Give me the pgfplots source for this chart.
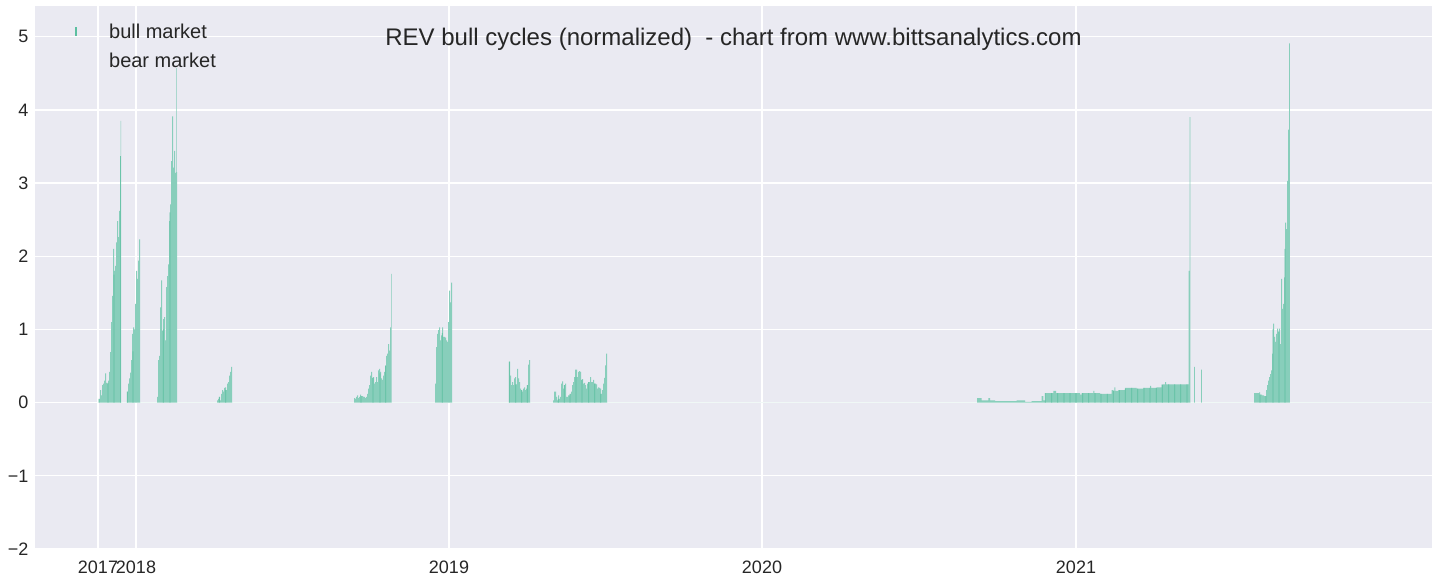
\documentclass[border=0pt]{standalone}
\usepackage{fontspec}
\setmainfont{Liberation Sans}
\usepackage{pgfplots}
\usepackage{pgfplotstable}
\pgfplotsset{compat=1.18}
\definecolor{bg}{HTML}{EAEAF2}
\definecolor{barc}{HTML}{88CEBB}
\definecolor{barline}{HTML}{5CBFA0}
\definecolor{txt}{HTML}{262626}

% x: position along the time axis (2018 = 136, one year = 313 units)
\pgfplotstableread{
x y
99 0.05
100 0.17
101 0.10
102 0.24
103 0.26
104 0.30
105 0.40
106 0.27
107 0.26
108 0.30
109 0.42
110 0.69
111 1.10
112 1.46
113 2.10
114 1.80
115 1.87
116 2.19
117 2.48
118 2.26
119 2.62
120 3.37
120.5 3.85
121.2 0
127 0.15
128 0.26
129 0.33
130 0.41
131 0.58
132 0.94
133 1.03
134 1.00
135 1.35
136 1.80
137 1.69
138 1.94
139 2.23
140 0
157 0.08
158 0.58
159 0.64
160 1.30
161 1.67
162 0.98
163 1.14
164 1.17
165 0.85
166 1.58
167 1.73
168 1.89
169 2.48
170 2.71
171 3.30
172 3.91
173 3.21
174 3.44
175 3.14
176 4.57
176.6 3.15
177.2 0
217 0.03
218 0.05
219 0.08
220 0.03
221 0.12
222 0.17
223 0.15
224 0.20
225 0.21
226 0.17
227 0.26
228 0.28
229 0.37
230 0.42
231 0.49
232 0
354 0.06
355 0.05
356 0.08
357 0.10
358 0.06
359 0.08
360 0.11
361 0.09
362 0.09
363 0.08
364 0.08
365 0.06
366 0.08
367 0.12
368 0.19
369 0.24
370 0.37
371 0.42
372 0.34
373 0.35
374 0.26
375 0.28
376 0.35
377 0.28
378 0.44
379 0.46
380 0.42
381 0.33
382 0.31
383 0.37
384 0.42
385 0.51
386 0.64
387 0.67
388 0.80
389 0.71
390 1.03
391 1.76
391.7 0
435 0.26
436 0.76
437 0.94
438 0.99
439 1.03
440 0.85
441 0.92
442 1.03
443 0.90
444 0.90
445 0.89
446 0.85
447 0.83
448 1.10
449 1.53
450 1.37
451 1.64
452 0
509 0.56
510 0.37
511 0.24
512 0.28
513 0.24
514 0.33
515 0.35
516 0.25
517 0.46
518 0.33
519 0.28
520 0.19
521 0.17
522 0.15
523 0.19
524 0.21
525 0.17
526 0.19
527 0.24
528 0.52
529 0.58
530 0
553 0.03
554 0.15
555 0.15
556 0.08
557 0.03
558 0.10
559 0.05
560 0.08
561 0.26
562 0.29
563 0.19
564 0.24
565 0.26
566 0.08
567 0.08
568 0.10
569 0.10
570 0.12
571 0.15
572 0.24
573 0.28
574 0.35
575 0.45
576 0.45
577 0.35
578 0.42
579 0.43
580 0.42
581 0.31
582 0.32
583 0.26
584 0.27
585 0.24
586 0.19
587 0.26
588 0.28
589 0.28
590 0.35
591 0.28
592 0.28
593 0.31
594 0.26
595 0.26
596 0.25
597 0.19
598 0.21
599 0.20
600 0.19
601 0.12
602 0.17
603 0.26
604 0.34
605 0.51
606 0.67
607 0
977 0.06
981.7 0.03
988.3 0.06
990 0.03
995 0.02
1016.7 0.03
1025 0.01
1031.7 0.02
1041.7 0.09
1043.3 0.03
1045.3 0.13
1053.3 0.16
1056 0.13
1080 0.11
1081.7 0.13
1093.3 0.16
1094.3 0.13
1100 0.12
1111.7 0.17
1113.3 0.16
1114.3 0.21
1115.3 0.16
1118.3 0.17
1125 0.20
1136.7 0.19
1143.3 0.20
1150 0.23
1151 0.20
1156.7 0.21
1161.7 0.25
1165 0.28
1166 0.25
1188.6 1.80
1189.5 3.90
1190.4 0
1194 0.49
1194.8 0
1201 0.45
1201.8 0
1254 0.13
1259 0.14
1260 0.11
1262 0.10
1264 0.09
1266 0.17
1267 0.24
1268 0.30
1269 0.35
1270 0.39
1271 0.44
1272 0.67
1273 1.08
1274 0.90
1275 0.83
1276 0.94
1277 1.01
1278 0.97
1279 1.01
1280 0.80
1281 1.69
1282 1.28
1283 1.35
1284 1.71
1285 2.46
1286 2.37
1287 3.03
1288 3.73
1289 4.91
1289.8 0
1432 0
}\bull

% weekly darker bar edges
\pgfplotstableread{
x y
99 0.05
108 0.27
114 1.75
120.6 3.37
127.3 0.15
133 0.70
163.3 1.00
170 2.60
219.3 0.08
225.7 0.17
361 0.09
373 0.34
380 0.40
385.7 0.50
442.3 0.95
509.3 0.56
515.7 0.25
521.7 0.17
527.3 0.24
558.3 0.05
564.3 0.24
570 0.12
576 0.35
582 0.31
588.7 0.28
594.7 0.26
600.7 0.12
1045.3 0.13
1051.7 0.13
1057.7 0.13
1064 0.13
1070 0.13
1076 0.13
1082.7 0.13
1088.7 0.13
1095 0.13
1101 0.12
1107.3 0.12
1113.3 0.16
1119.3 0.17
1125.3 0.19
1131.7 0.20
1137.7 0.19
1144 0.20
1150 0.20
1156.3 0.20
1162.3 0.24
1168.7 0.25
1174.7 0.25
1180.7 0.25
1187 0.25
1260 0.11
1266 0.09
1273 1.00
1279 0.97
1285 2.10
}\edges

\begin{document}
\begin{tikzpicture}
\begin{axis}[
  at={(0,0)}, anchor=south west,
  scale only axis, width=1397pt, height=543pt,
  xmin=35, xmax=1432, ymin=-2, ymax=5.42,
  axis background/.style={fill=bg},
  axis line style={draw=none},
  grid=major, grid style={white, line width=1.2pt},
  major tick length=0pt,
  xtick={98,136,449,762,1076},
  xticklabels={2017,2018,2019,2020,2021},
  ytick={-2,-1,0,1,2,3,4,5},
  yticklabels={−2,−1,0,1,2,3,4,5},
  tick label style={font=\fontsize{18}{21}\selectfont, text=txt},
  xticklabel style={yshift=-8pt},
  yticklabel style={xshift=-3pt},
  legend style={at={(axis description cs:0.02,0.975)}, anchor=north west,
    draw=none, fill=none, font=\fontsize{20}{24}\selectfont, text=txt,
    row sep=9pt, column sep=4pt},
  legend cell align=left,
  clip=true,
]
\addplot[ybar interval, fill=barc, draw=none, forget plot] table[x=x,y=y] {\bull};
\addplot[ybar, bar shift=0pt, bar width=0.7pt, fill=barline, draw=none, forget plot] table[x=x,y=y] {\edges};
\addlegendimage{legend image code/.code={\path[draw=none] (0,0) -- (1.3cm,0); \fill[barline, draw=none] (0.3cm,-4.5pt) rectangle ++(2.4pt,9pt);}}
\addlegendentry{bull market}
\addlegendimage{legend image code/.code={\path[draw=none] (0,0) -- (1.3cm,0);}}
\addlegendentry{bear market}
\node[font=\fontsize{24}{28}\selectfont, text=txt] at (rel axis cs:0.5,0.938) {REV bull cycles (normalized)\ \ - chart from www.bittsanalytics.com};
\end{axis}
\pgfresetboundingbox
\path (-35pt,-34pt) rectangle (1401pt,549pt);
\end{tikzpicture}
\end{document}
